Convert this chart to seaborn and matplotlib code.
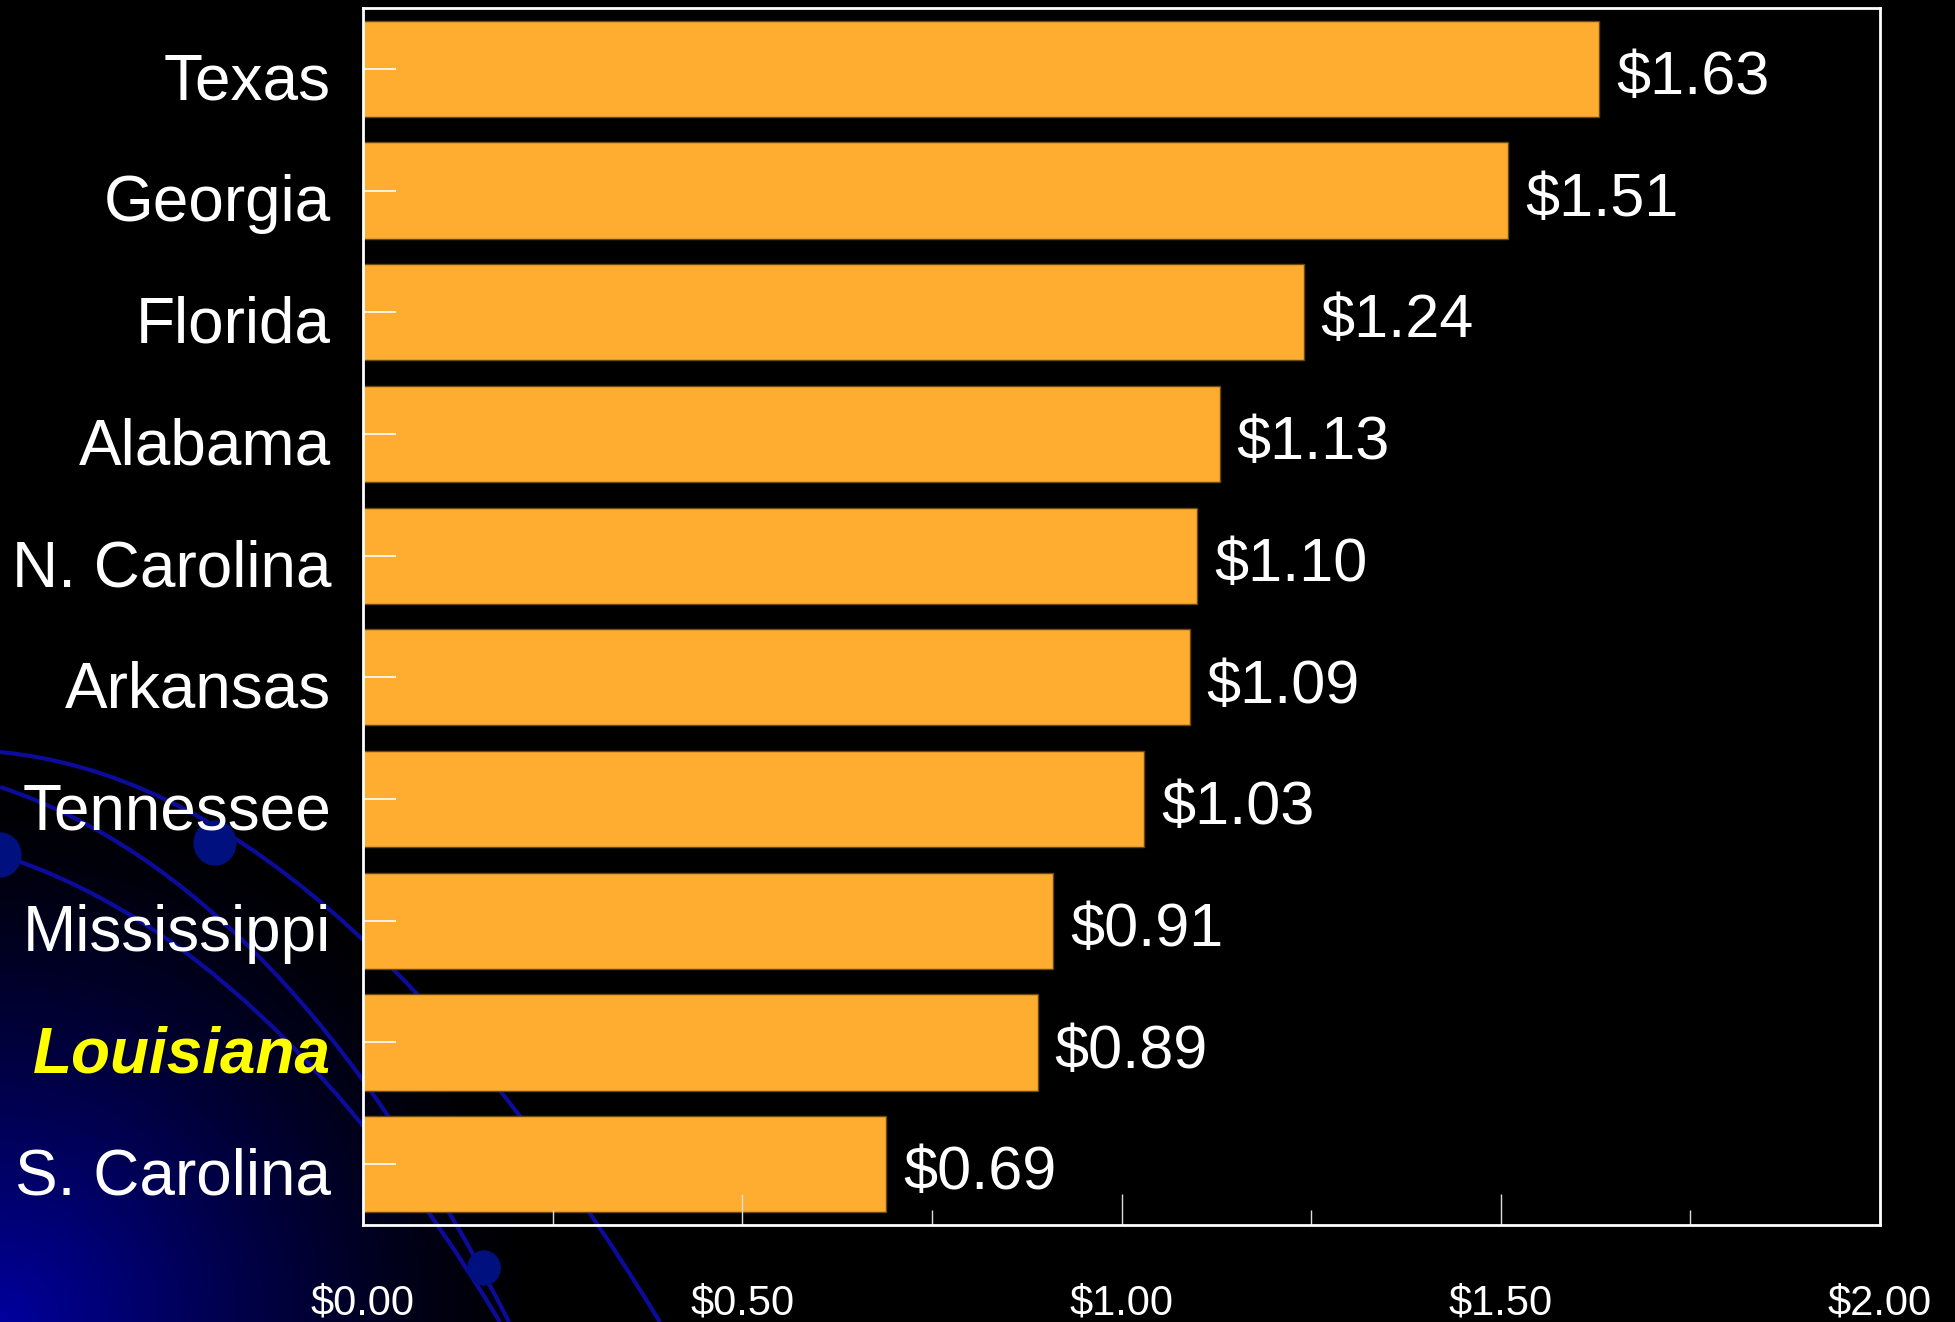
import numpy as np
import matplotlib
matplotlib.use('Agg')
import matplotlib.pyplot as plt
from matplotlib.path import Path
from matplotlib.patches import PathPatch, Ellipse
from matplotlib.ticker import FixedLocator, MultipleLocator
from matplotlib.transforms import ScaledTranslation
import seaborn as sns

# data
states = ['Texas', 'Georgia', 'Florida', 'Alabama', 'N. Carolina', 'Arkansas',
          'Tennessee', 'Mississippi', 'Louisiana', 'S. Carolina']
values = [1.63, 1.51, 1.24, 1.13, 1.10, 1.09, 1.03, 0.91, 0.89, 0.69]
x_ticks = [0.0, 0.5, 1.0, 1.5, 2.0]
x_tick_labels = ['$0.00', '$0.50', '$1.00', '$1.50', '$2.00']
highlight = 'Louisiana'

BAR_COLOR = '#FFAD30'
W, H = 1956, 1322

plt.rcParams['font.family'] = ['Liberation Sans', 'DejaVu Sans']

fig = plt.figure(figsize=(W / 100, H / 100), dpi=100, facecolor='black')

##################### slide background: blue glow bottom-left + swoosh lines

bg = fig.add_axes([0, 0, 1, 1], zorder=-10)
yy, xx = np.mgrid[0:H:2, 0:W:2]
dist = np.hypot(xx, H - yy)
glow = np.clip(1 - dist / 540, 0, 1) ** 1.3
img = np.zeros(xx.shape + (3,))
img[..., 2] = 0.62 * glow
bg.imshow(img, extent=(0, W, H, 0), aspect='auto', interpolation='bilinear')

# quadratic curves (start, control, end) in pixel space
swooshes = [
    [(0, 752), (330, 783), (660, 1322)],
    [(0, 787), (285, 881), (509, 1322)],
    [(0, 855), (270, 941), (500, 1322)],
]
for pts in swooshes:
    path = Path(pts, [Path.MOVETO, Path.CURVE3, Path.CURVE3])
    bg.add_patch(PathPatch(path, fill=False, edgecolor='#0b0b9c', lw=3))

for (cx, cy, r) in [(215, 843, 22), (0, 855, 22), (484, 1268, 17)]:
    bg.add_patch(Ellipse((cx, cy), 2 * r * 0.95, 2 * r, color='#00107e'))

bg.set_xlim(0, W)
bg.set_ylim(H, 0)
bg.axis('off')

##################### the bar chart

ax = fig.add_axes([363 / W, 1 - 1225 / H, (1880 - 363) / W, (1225 - 8) / H])
ax.set_facecolor('none')

sns.barplot(x=values, y=states, orient='h', color=BAR_COLOR, saturation=1,
            width=0.79, edgecolor='#6b4a10', linewidth=1, ax=ax)

ax.set_xlim(0, 2)
ax.set_ylim(9.5, -0.5)
ax.set_xlabel('')
ax.set_ylabel('')

ax.xaxis.set_major_locator(FixedLocator(x_ticks))
ax.set_xticklabels(x_tick_labels)
ax.xaxis.set_minor_locator(MultipleLocator(0.25))
ax.tick_params(axis='x', which='major', direction='in', length=22, width=1,
               color='#dddddd', pad=42, labelsize=30, labelcolor='white')
ax.tick_params(axis='x', which='minor', direction='in', length=11, width=1,
               color='#dddddd')
ax.tick_params(axis='y', direction='in', length=24, width=1.2, color='white',
               pad=23, labelsize=46, labelcolor='white')

# nudge state names a bit lower, like the original slide
shift_down = ScaledTranslation(0, -5 / 72, fig.dpi_scale_trans)
for lbl in ax.get_yticklabels():
    lbl.set_transform(lbl.get_transform() + shift_down)
    if lbl.get_text() == highlight:
        lbl.set_color('#FFFF00')
        lbl.set_fontweight('bold')
        lbl.set_fontstyle('italic')

for side in ['top', 'bottom', 'left', 'right']:
    ax.spines[side].set_color('white')
    ax.spines[side].set_linewidth(2)

value_texts = ax.bar_label(ax.containers[0], labels=[f'${v:.2f}' for v in values],
                           padding=12, fontsize=44, color='white')
for t in value_texts:
    t.xyann = (12, -7)

fig.savefig('out.png', dpi=100, facecolor='black')
